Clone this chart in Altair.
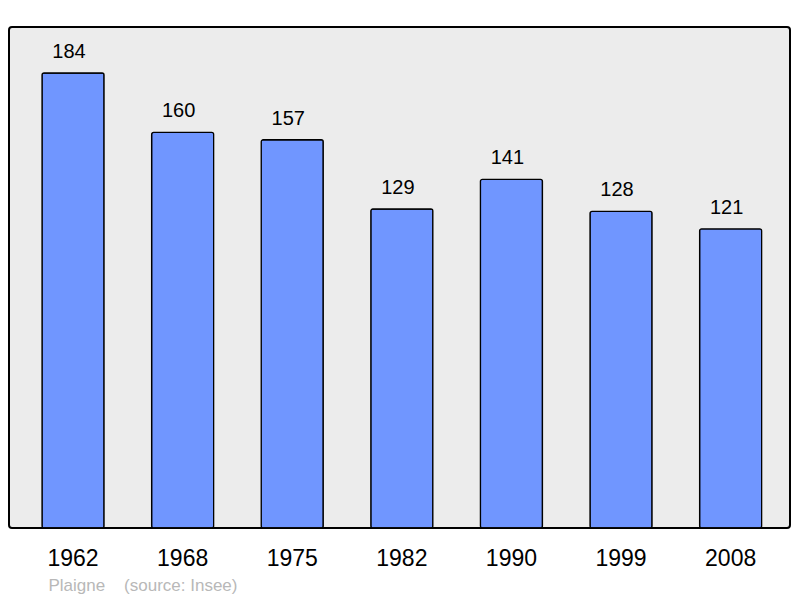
import altair as alt
import pandas as pd

years = ["1962", "1968", "1975", "1982", "1990", "1999", "2008"]
population = [184, 160, 157, 129, 141, 128, 121]
footer = "Plaigne\u00a0\u00a0\u00a0\u00a0(source: Insee)"

df = pd.DataFrame({"year": years, "pop": population})

x = alt.X(
    "year:N",
    sort=years,
    scale=alt.Scale(paddingInner=0.434, paddingOuter=0.28, align=0.538),
    axis=alt.Axis(
        title=footer,
        labelAngle=0,
        domain=False,
        ticks=False,
        tickSize=0,
        labelPadding=37,
        labelBaseline="alphabetic",
        labelFont="Liberation Sans",
        labelFontSize=23,
        labelColor="#000000",
        titleFont="Liberation Sans",
        titleFontSize=17,
        titleFontWeight="normal",
        titleColor="#b8b8b8",
        titleAnchor="start",
        titleAlign="left",
        titleBaseline="alphabetic",
        titleX=39,
        titleY=62,
    ),
)
y = alt.Y("pop:Q", scale=alt.Scale(domain=[0, 202.6], nice=False), axis=None)

bars = alt.Chart(df).mark_bar(
    color="#7096ff", stroke="#000000", strokeWidth=1.3, cornerRadius=2
).encode(x=x, y=y)

labels = alt.Chart(df).mark_text(
    baseline="alphabetic", dy=-15, dx=-4, font="Liberation Sans", fontSize=20, color="#000000"
).encode(x=x, y=y, text="pop:Q")

chart = (
    alt.layer(bars, labels)
    .properties(
        width=781,
        height=501,
        autosize=alt.AutoSizeParams(type="none"),
        padding={"left": 1, "top": 19, "right": 1, "bottom": 70},
        background="#ffffff",
    )
    .configure_view(fill="#ececec", stroke="#000000", strokeWidth=2, cornerRadius=3)
)

chart.save("out.html", embed_options={"renderer": "svg", "actions": False})
